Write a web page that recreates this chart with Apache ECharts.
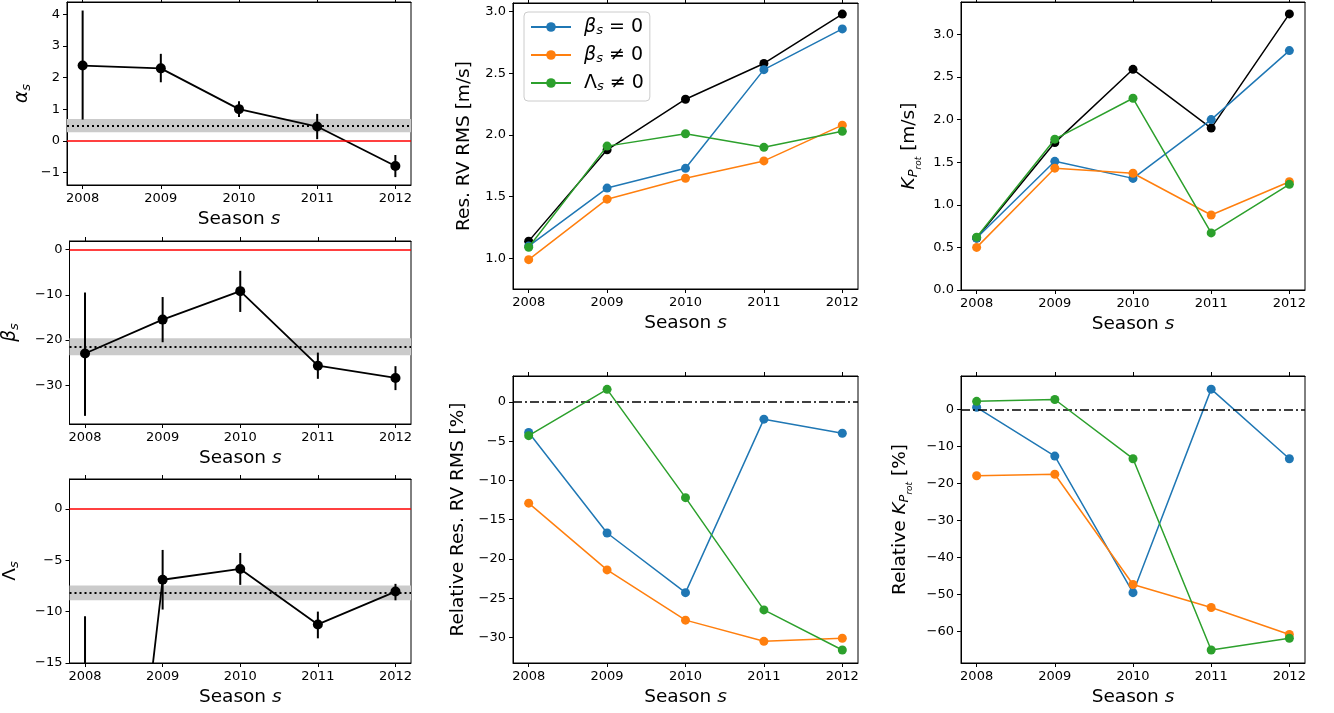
<!DOCTYPE html>
<html>
<head>
<meta charset="utf-8">
<script src="https://cdn.jsdelivr.net/npm/echarts@6/dist/echarts.min.js"></script>
<style>
html,body{margin:0;padding:0;background:#fff;}
#chart{width:1334px;height:713px;}
</style>
</head>
<body>
<div id="chart"></div>
<script>
// ---------------- data ----------------
const years = [2008, 2009, 2010, 2011, 2012];

const alphaVal = [2.38, 2.29, 1.00, 0.45, -0.80];
const alphaLo  = [0.67, 1.85, 0.75, 0.05, -1.15];
const alphaHi  = [4.12, 2.75, 1.25, 0.85, -0.45];
const alphaBand = [0.27, 0.69];
const alphaMean = 0.48;

const betaVal = [-23.0, -15.5, -9.2, -25.7, -28.4];
const betaLo  = [-36.8, -20.5, -13.8, -28.6, -31.1];
const betaHi  = [-9.5, -10.5, -4.7, -22.8, -25.8];
const betaBand = [-23.4, -19.6];
const betaMean = -21.5;

const lambdaVal = [-72.0, -6.9, -5.85, -11.25, -8.05];
const lambdaLo  = [-133.5, -9.8, -7.4, -12.6, -8.9];
const lambdaHi  = [-10.45, -4.0, -4.3, -10.0, -7.3];
const lambdaBand = [-8.9, -7.45];
const lambdaMean = -8.18;

const rmsBlack  = [1.14, 1.88, 2.29, 2.58, 2.98];
const rmsBlue   = [1.10, 1.57, 1.73, 2.53, 2.86];
const rmsOrange = [0.99, 1.48, 1.65, 1.79, 2.08];
const rmsGreen  = [1.09, 1.91, 2.01, 1.90, 2.03];

const kBlack  = [0.61, 1.73, 2.59, 1.90, 3.24];
const kBlue   = [0.61, 1.51, 1.31, 2.00, 2.81];
const kOrange = [0.50, 1.43, 1.37, 0.88, 1.27];
const kGreen  = [0.62, 1.77, 2.25, 0.67, 1.24];

const relRmsBlue   = [-3.9, -16.7, -24.3, -2.2, -4.0];
const relRmsOrange = [-12.9, -21.4, -27.8, -30.5, -30.1];
const relRmsGreen  = [-4.3, 1.6, -12.2, -26.5, -31.6];

const relKBlue   = [0.6, -12.6, -49.5, 5.5, -13.3];
const relKOrange = [-17.9, -17.5, -47.3, -53.5, -60.8];
const relKGreen  = [2.2, 2.7, -13.3, -65.0, -61.8];

const alphaTicks  = [-1, 0, 1, 2, 3, 4];
const betaTicks   = [-30, -20, -10, 0];
const lambdaTicks = [-15, -10, -5, 0];
const rmsTicks    = [1.0, 1.5, 2.0, 2.5, 3.0];
const kTicks      = [0.0, 0.5, 1.0, 1.5, 2.0, 2.5, 3.0];
const relRmsTicks = [-30, -25, -20, -15, -10, -5, 0];
const relKTicks   = [-60, -50, -40, -30, -20, -10, 0];

const legendNames = ['b0', 'bn', 'ln'];
const legendLabels = {
  b0: '{g|β}{sub|s}{t| = 0}',
  bn: '{g|β}{sub|s}{t| ≠ 0}',
  ln: '{u|Λ}{sub|s}{t| ≠ 0}'
};

// ---------------- style ----------------
const FONT = 'DejaVu Sans';
const C_BLUE = '#1f77b4', C_ORANGE = '#ff7f0e', C_GREEN = '#2ca02c';

const nameRich = {
  n: {fontSize: 18.5, fontFamily: FONT, color: '#000', lineHeight: 30, verticalAlign: 'middle'},
  i: {fontSize: 18.5, fontFamily: FONT, color: '#000', fontStyle: 'italic', lineHeight: 30, verticalAlign: 'middle'},
  m: {fontSize: 18.5, fontFamily: FONT, color: '#000', fontStyle: 'italic', lineHeight: 30, verticalAlign: 'middle'},
  u: {fontSize: 18.5, fontFamily: FONT, color: '#000', lineHeight: 30, verticalAlign: 'middle'},
  t: {fontSize: 18.5, fontFamily: FONT, color: '#000', lineHeight: 30, verticalAlign: 'middle'},
  sub: {fontSize: 13, fontFamily: FONT, color: '#000', fontStyle: 'italic', lineHeight: 13, verticalAlign: 'bottom', padding: [0, 0, 4, 0]},
  subsub: {fontSize: 9, fontFamily: FONT, color: '#000', fontStyle: 'italic', lineHeight: 9, verticalAlign: 'bottom', padding: [0, 0, 1, 0]}
};

const grids = [
  {left: 67,  top: 2,   width: 344, height: 183},
  {left: 67,  top: 241, width: 344, height: 183},
  {left: 67,  top: 479, width: 344, height: 184},
  {left: 513, top: 3,   width: 345, height: 286},
  {left: 961, top: 2,   width: 344, height: 288},
  {left: 513, top: 376, width: 345, height: 287},
  {left: 961, top: 376, width: 344, height: 287}
];

function fmtTick(dec) {
  return function (v) {
    let s = dec ? Math.abs(v).toFixed(dec) : String(Math.abs(v));
    return (v < 0 ? '\u2212' : '') + s;
  };
}

const yCfg = [
  {min: -1.4, max: 4.39, ticks: alphaTicks, dec: 0, name: '{m|α}{sub|s}', gap: 30},
  {min: -38.6, max: 1.9, ticks: betaTicks, dec: 0, name: '{m|β}{sub|s}', gap: 44},
  {min: -15, max: 2.9, ticks: lambdaTicks, dec: 0, name: '{u|Λ}{sub|s}', gap: 44},
  {min: 0.752, max: 3.07, ticks: rmsTicks, dec: 1, name: '{t|Res. RV RMS [m/s]}', gap: 34},
  {min: 0, max: 3.38, ticks: kTicks, dec: 1, name: '{m|K}{sub|P}{subsub|rot}{t| [m/s]}', gap: 37},
  {min: -33.26, max: 3.3, ticks: relRmsTicks, dec: 0, name: '{t|Relative Res. RV RMS [%]}', gap: 40},
  {min: -68.5, max: 9.05, ticks: relKTicks, dec: 0, name: '{t|Relative }{m|K}{sub|P}{subsub|rot}{t| [%]}', gap: 46}
];

const xAxes = [], yAxes = [], series = [];
const axisLineStyle = {color: '#000', width: 1};

grids.forEach((g, gi) => {
  xAxes.push({
    gridIndex: gi, type: 'value', min: 2007.8, max: 2012.2, position: 'bottom',
    axisLine: {show: true, onZero: false, lineStyle: axisLineStyle},
    axisTick: {show: true, length: 4, customValues: years, lineStyle: axisLineStyle},
    axisLabel: {show: true, customValues: years, formatter: v => String(v), fontSize: 13, fontFamily: FONT, color: '#000', margin: 7},
    splitLine: {show: false},
    name: '{n|Season }{i|s}', nameLocation: 'middle', nameGap: 19,
    nameTextStyle: {rich: nameRich}
  });
  xAxes.push({
    gridIndex: gi, type: 'value', min: 2007.8, max: 2012.2, position: 'top',
    axisLine: {show: true, onZero: false, lineStyle: axisLineStyle},
    axisTick: {show: true, length: 4, customValues: years, lineStyle: axisLineStyle},
    axisLabel: {show: false},
    splitLine: {show: false}
  });
  const c = yCfg[gi];
  yAxes.push({
    gridIndex: gi, type: 'value', min: c.min, max: c.max,
    axisLine: {show: true, onZero: false, lineStyle: axisLineStyle},
    axisTick: {show: true, length: 4, customValues: c.ticks, lineStyle: axisLineStyle},
    axisLabel: {show: true, customValues: c.ticks, formatter: fmtTick(c.dec), fontSize: 13, fontFamily: FONT, color: '#000', margin: 7},
    splitLine: {show: false},
    name: c.name, nameLocation: 'middle', nameGap: c.gap, nameRotate: 90,
    nameTextStyle: {rich: nameRich}
  });
});

function pts(vals) { return years.map((y, k) => [y, vals[k]]); }

// left column: parameters with error bars
const params = [
  {val: alphaVal, lo: alphaLo, hi: alphaHi, band: alphaBand, mean: alphaMean},
  {val: betaVal, lo: betaLo, hi: betaHi, band: betaBand, mean: betaMean},
  {val: lambdaVal, lo: lambdaLo, hi: lambdaHi, band: lambdaBand, mean: lambdaMean}
];
params.forEach((p, gi) => {
  series.push({
    name: 'ref' + gi, type: 'line', xAxisIndex: gi * 2, yAxisIndex: gi, z: 1,
    data: pts(p.val), symbol: 'none', lineStyle: {width: 0, opacity: 0}, silent: true, clip: true,
    markArea: {silent: true, itemStyle: {color: '#cbcbcb'}, data: [[{yAxis: p.band[0]}, {yAxis: p.band[1]}]]},
    markLine: {silent: true, symbol: ['none', 'none'], label: {show: false}, animation: false,
      data: [
        {yAxis: 0, lineStyle: {color: '#ff0000', width: 1.6, type: 'solid'}},
        {yAxis: p.mean, lineStyle: {color: '#000', width: 2, type: [2, 3]}}
      ]}
  });
  series.push({
    name: 'err' + gi, type: 'custom', xAxisIndex: gi * 2, yAxisIndex: gi, z: 3, clip: true, silent: true,
    data: years.map((y, k) => [y, p.lo[k], p.hi[k]]),
    encode: {x: 0, y: [1, 2]},
    renderItem: function (params, api) {
      const a = api.coord([api.value(0), api.value(1)]);
      const b = api.coord([api.value(0), api.value(2)]);
      return {type: 'line', shape: {x1: a[0], y1: a[1], x2: b[0], y2: b[1]},
        style: {stroke: '#000', lineWidth: 2}};
    }
  });
  series.push({
    name: 'val' + gi, type: 'line', xAxisIndex: gi * 2, yAxisIndex: gi, z: 4, clip: true,
    data: pts(p.val), symbol: 'circle', symbolSize: 10, showAllSymbol: true,
    lineStyle: {color: '#000', width: 1.8}, itemStyle: {color: '#000'}
  });
});

function lineSeries(name, gi, vals, color, z) {
  return {
    name: name, type: 'line', xAxisIndex: gi * 2, yAxisIndex: gi, z: z, clip: true,
    data: pts(vals), symbol: 'circle', symbolSize: 9, showAllSymbol: true,
    lineStyle: {color: color, width: 1.5}, itemStyle: {color: color}
  };
}

// Res RV RMS
series.push(lineSeries('black3', 3, rmsBlack, '#000', 3));
series.push(lineSeries('b0', 3, rmsBlue, C_BLUE, 4));
series.push(lineSeries('bn', 3, rmsOrange, C_ORANGE, 5));
series.push(lineSeries('ln', 3, rmsGreen, C_GREEN, 6));
// K Prot
series.push(lineSeries('black4', 4, kBlack, '#000', 3));
series.push(lineSeries('b0_4', 4, kBlue, C_BLUE, 4));
series.push(lineSeries('bn_4', 4, kOrange, C_ORANGE, 5));
series.push(lineSeries('ln_4', 4, kGreen, C_GREEN, 6));
// relative RMS
series.push(lineSeries('b0_5', 5, relRmsBlue, C_BLUE, 4));
series.push(lineSeries('bn_5', 5, relRmsOrange, C_ORANGE, 5));
series.push(lineSeries('ln_5', 5, relRmsGreen, C_GREEN, 6));
// relative K
series.push(lineSeries('b0_6', 6, relKBlue, C_BLUE, 4));
series.push(lineSeries('bn_6', 6, relKOrange, C_ORANGE, 5));
series.push(lineSeries('ln_6', 6, relKGreen, C_GREEN, 6));

[5, 6].forEach(gi => {
  series.push({
    name: 'zero' + gi, type: 'line', xAxisIndex: gi * 2, yAxisIndex: gi, z: 7,
    data: pts(gi === 5 ? relRmsBlue : relKBlue), symbol: 'none', lineStyle: {width: 0, opacity: 0}, silent: true,
    markLine: {silent: true, symbol: ['none', 'none'], label: {show: false},
      data: [{yAxis: 0, lineStyle: {color: '#000', width: 1.5, type: [9, 3, 2, 3]}}]}
  });
});

const chart = echarts.init(document.getElementById('chart'), null, {renderer: 'canvas'});
chart.setOption({
  backgroundColor: '#fff',
  animation: false,
  textStyle: {fontFamily: FONT},
  grid: grids.map(g => Object.assign({show: true, borderColor: '#000', borderWidth: 1, backgroundColor: 'transparent', containLabel: false}, g)),
  xAxis: xAxes,
  yAxis: yAxes,
  legend: {
    data: legendNames, left: 524, top: 12, orient: 'vertical',
    itemWidth: 40, itemHeight: 12, itemGap: 4,
    padding: [3, 6, 6, 6],
    backgroundColor: 'rgba(255,255,255,0.85)', borderColor: '#cccccc', borderWidth: 1, borderRadius: 4,
    formatter: name => legendLabels[name],
    textStyle: {
      fontFamily: FONT, fontSize: 19, color: '#000',
      rich: {
        g: {fontSize: 19, fontFamily: FONT, fontStyle: 'italic', lineHeight: 24, height: 24, verticalAlign: 'middle', padding: [0, 0, 0, 8]},
        u: {fontSize: 19, fontFamily: FONT, lineHeight: 24, height: 24, verticalAlign: 'middle', padding: [0, 0, 0, 8]},
        t: {fontSize: 19, fontFamily: FONT, lineHeight: 24, verticalAlign: 'middle'},
        sub: {fontSize: 13, fontFamily: FONT, fontStyle: 'italic', lineHeight: 13, verticalAlign: 'bottom', padding: [0, 0, 2, 0]}
      }
    }
  },
  series: series
});
</script>
</body>
</html>
